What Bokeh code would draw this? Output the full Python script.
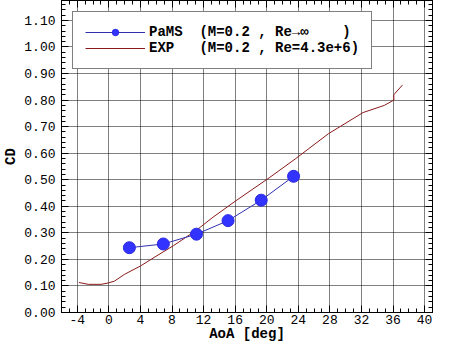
from bokeh.plotting import figure
from bokeh.models import (FixedTicker, PrintfTickFormatter, LinearAxis, Legend,
                          LegendItem, Range1d, CustomJSTickFormatter,
                          CustomLabelingPolicy)
from bokeh.embed import file_html
from bokeh.resources import INLINE

# ---- data ----
pams_aoa = [2.6, 6.9, 11.1, 15.1, 19.3, 23.4]
pams_cd = [0.244, 0.258, 0.295, 0.346, 0.423, 0.513]

exp_aoa = [-3.8, -2.6, -1.0, -0.1, 0.7, 2.0, 4.0, 6.1, 8.2, 11.1, 13.2, 16.1,
           20.3, 23.6, 27.8, 32.2, 34.9, 36.1, 36.1, 37.2]
exp_cd = [0.113, 0.106, 0.106, 0.111, 0.118, 0.144, 0.175, 0.214, 0.252, 0.310,
          0.359, 0.421, 0.507, 0.578, 0.673, 0.753, 0.780, 0.800, 0.820, 0.857]

x_major = [-4, 0, 4, 8, 12, 16, 20, 24, 28, 32, 36, 40]
y_major = [0.0, 0.1, 0.2, 0.3, 0.4, 0.5, 0.6, 0.7, 0.8, 0.9, 1.0, 1.1]
x_minor = list(range(-6, 42))
y_minor = [round(i * 0.02, 2) for i in range(0, 59)]

x_title = "AoA [deg]"
y_title = "CD"
label_pams = "PaMS  (M=0.2 , Re\u2192\u221e    )"
label_exp = "EXP   (M=0.2 , Re=4.3e+6)"

FONT = "Liberation Mono"

p = figure(width=434, height=344, x_range=Range1d(-6, 41), y_range=Range1d(0, 1.175),
           output_backend="svg", toolbar_location=None,
           min_border_left=56, min_border_right=2, min_border_top=0, min_border_bottom=0,
           background_fill_color="white", border_fill_color="white")

p.outline_line_color = "black"
p.outline_line_width = 1

xt = FixedTicker(ticks=x_major, minor_ticks=x_minor)
yt = FixedTicker(ticks=y_major, minor_ticks=y_minor)

xax = p.below[0]
yax = p.left[0]
xax.ticker = xt
xax.formatter = PrintfTickFormatter(format="%d")
yax.ticker = yt
yax.formatter = PrintfTickFormatter(format="%.2f")

blank = CustomJSTickFormatter(code="return '';")
hide_all = CustomLabelingPolicy(code="return new Set();")
top_ax = LinearAxis(ticker=xt, formatter=blank, major_label_policy=hide_all)
right_ax = LinearAxis(ticker=yt, formatter=blank, major_label_policy=hide_all)
p.add_layout(top_ax, "above")
p.add_layout(right_ax, "right")

for ax in (xax, yax, top_ax, right_ax):
    ax.axis_line_color = "black"
    ax.major_tick_line_color = "black"
    ax.minor_tick_line_color = "black"
    ax.major_tick_in = 7
    ax.major_tick_out = 0
    ax.minor_tick_in = 4
    ax.minor_tick_out = 0
    ax.major_label_text_font = FONT
    ax.major_label_text_font_size = "13px"
    ax.major_label_text_color = "black"
    ax.axis_label_text_font = FONT
    ax.axis_label_text_font_size = "14px"
    ax.axis_label_text_font_style = "bold"
    ax.axis_label_text_color = "black"

for ax in (top_ax, right_ax):
    ax.major_label_standoff = 0

xax.axis_label = x_title
xax.major_label_standoff = 2
xax.axis_label_standoff = -1
yax.axis_label = y_title
yax.major_label_standoff = 6
yax.axis_label_standoff = 2

p.xgrid.ticker = xt
p.ygrid.ticker = yt
for g in (p.xgrid, p.ygrid):
    g.grid_line_color = "black"
    g.grid_line_dash = "1 1"
    g.grid_line_width = 1

r_exp = p.line(exp_aoa, exp_cd, line_color="#8B1A1A", line_width=1)
r_pl = p.line(pams_aoa, pams_cd, line_color="#3030B0", line_width=1)
r_ps = p.scatter(pams_aoa, pams_cd, size=12, marker="circle",
                 fill_color="#3333FF", line_color="#2828E0")

legend = Legend(items=[LegendItem(label=label_pams, renderers=[r_pl, r_ps]),
                       LegendItem(label=label_exp, renderers=[r_exp])],
                location="top_left")
legend.margin = 11
legend.padding = 12
legend.spacing = 0
legend.glyph_width = 60
legend.glyph_height = 16
legend.label_height = 16
legend.label_standoff = 4
legend.label_text_font = FONT
legend.label_text_font_size = "14px"
legend.label_text_font_style = "bold"
legend.label_text_color = "black"
legend.border_line_color = "black"
legend.border_line_width = 1
legend.background_fill_color = "white"
legend.background_fill_alpha = 1
p.add_layout(legend)

open("out.html", "w").write(file_html(p, INLINE))
